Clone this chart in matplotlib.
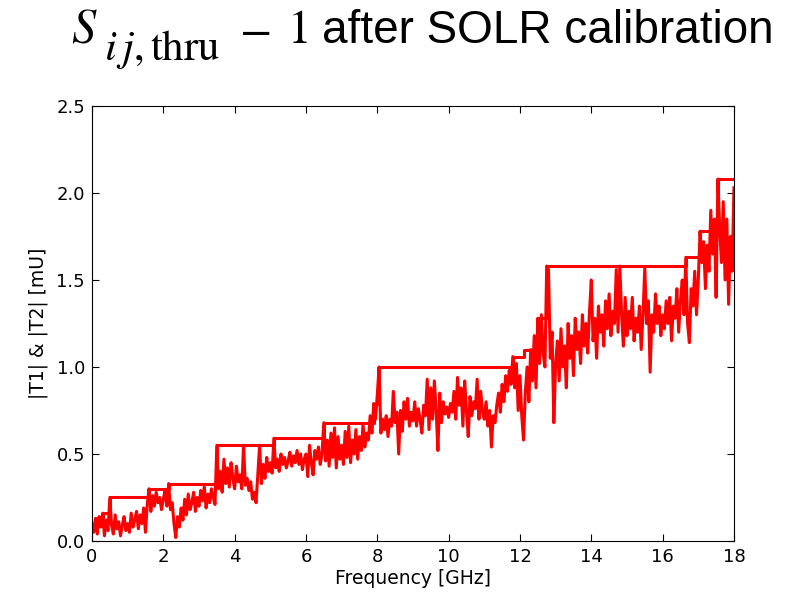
### Script description ###
# |T1| & |T2| after SOLR calibration, noisy trace plus running peak envelope
### Packages ###
import matplotlib
matplotlib.use('Agg')
import matplotlib.pyplot as plt
import matplotlib.ticker as ticker
import numpy as np

##### data #####
# frequency grid, 0.05 GHz steps from 0 to 18 GHz
freq = np.linspace(0.0, 18.0, 361)

# noisy trace [mU], one row per GHz
t_trace = [
    0.10, 0.05, 0.13, 0.04, 0.14, 0.08, 0.16, 0.03, 0.12, 0.06, 0.25, 0.09, 0.04, 0.15, 0.07, 0.11, 0.03, 0.09, 0.14, 0.06,
    0.10, 0.05, 0.16, 0.08, 0.12, 0.17, 0.07, 0.15, 0.10, 0.19, 0.05, 0.21, 0.30, 0.17, 0.26, 0.20, 0.28, 0.22, 0.25, 0.18,
    0.24, 0.29, 0.20, 0.33, 0.18, 0.22, 0.10, 0.02, 0.14, 0.08, 0.19, 0.12, 0.24, 0.15, 0.27, 0.18, 0.22, 0.28, 0.17, 0.25,
    0.20, 0.29, 0.23, 0.31, 0.19, 0.27, 0.22, 0.30, 0.25, 0.21, 0.55, 0.30, 0.40, 0.28, 0.47, 0.33, 0.42, 0.31, 0.45, 0.36,
    0.30, 0.43, 0.34, 0.38, 0.30, 0.55, 0.32, 0.36, 0.29, 0.34, 0.24, 0.28, 0.22, 0.38, 0.55, 0.33, 0.44, 0.36, 0.48, 0.40,
    0.45, 0.39, 0.59, 0.42, 0.47, 0.40, 0.50, 0.44, 0.48, 0.42, 0.46, 0.51, 0.43, 0.49, 0.45, 0.52, 0.44, 0.50, 0.41, 0.47,
    0.50, 0.37, 0.55, 0.45, 0.38, 0.52, 0.47, 0.54, 0.44, 0.50, 0.68, 0.46, 0.58, 0.43, 0.62, 0.48, 0.65, 0.42, 0.60, 0.47,
    0.55, 0.44, 0.63, 0.48, 0.66, 0.45, 0.58, 0.50, 0.64, 0.47, 0.60, 0.52, 0.67, 0.54, 0.62, 0.58, 0.72, 0.62, 0.79, 0.70,
    0.84, 1.00, 0.62, 0.70, 0.64, 0.72, 0.60, 0.70, 0.66, 0.86, 0.68, 0.74, 0.50, 0.75, 0.63, 0.80, 0.70, 0.82, 0.66, 0.74,
    0.69, 0.80, 0.66, 0.76, 0.70, 0.62, 0.78, 0.72, 0.93, 0.64, 0.88, 0.70, 0.92, 0.75, 0.52, 0.85, 0.68, 0.80, 0.73, 0.77,
    0.71, 0.79, 0.74, 0.86, 0.70, 0.94, 0.78, 0.88, 0.66, 0.92, 0.75, 0.60, 0.83, 0.72, 0.80, 0.76, 0.93, 0.70, 0.86, 0.74,
    0.70, 0.80, 0.66, 0.75, 0.54, 0.72, 0.68, 0.78, 0.85, 0.74, 0.90, 0.80, 0.95, 0.86, 0.98, 0.90, 1.06, 0.88, 1.02, 0.75,
    0.95, 0.72, 0.58, 0.85, 1.00, 0.80, 1.10, 0.92, 1.18, 0.88, 1.28, 1.02, 1.30, 1.08, 1.00, 1.58, 1.56, 1.05, 1.20, 0.68,
    1.02, 1.15, 0.92, 1.22, 1.00, 1.12, 0.88, 1.25, 1.05, 1.18, 0.95, 1.28, 1.10, 1.20, 1.02, 1.30, 1.12, 1.25, 1.08, 1.32,
    1.50, 1.15, 1.28, 1.05, 1.35, 1.20, 1.30, 1.12, 1.38, 1.22, 1.42, 1.18, 1.32, 1.25, 1.56, 1.20, 1.58, 1.30, 1.12, 1.40,
    1.18, 1.32, 1.22, 1.40, 1.15, 1.28, 1.20, 1.35, 1.10, 1.30, 1.57, 1.25, 1.38, 0.97, 1.30, 1.20, 1.42, 1.25, 1.35, 1.18,
    1.30, 1.22, 1.38, 1.25, 1.40, 1.15, 1.35, 1.28, 1.45, 1.20, 1.38, 1.50, 1.30, 1.63, 1.25, 1.14, 1.45, 1.35, 1.55, 1.30,
    1.50, 1.78, 1.60, 1.72, 1.45, 1.70, 1.55, 1.90, 1.65, 1.85, 1.40, 2.08, 1.80, 1.60, 1.95, 1.50, 1.85, 1.36, 1.75, 1.55,
    2.03,
]

# peak envelope (step line): frequency where a new level starts, and its level
peak_freq = [0.0, 0.15, 0.30, 0.50, 1.60, 2.15, 3.50, 5.10, 6.50, 7.90, 8.05, 11.80, 12.10, 12.50, 12.75, 16.65, 17.05, 17.55, 18.0]
peak_level = [0.10, 0.13, 0.16, 0.25, 0.30, 0.33, 0.55, 0.59, 0.68, 0.79, 1.00, 1.06, 1.10, 1.28, 1.58, 1.63, 1.78, 2.08, 2.08]

##### Plot the stuff #####
plt.rcParams['mathtext.fontset'] = 'stix'
fig = plt.figure(figsize=(8.11, 5.93), dpi=100)
ax = fig.add_axes([0.1134, 0.0877, 0.7916, 0.7336])

ax.plot(freq, t_trace, color='#ff0000', lw=2.2)
ax.plot(peak_freq, peak_level, color='#ff0000', lw=2.2, drawstyle='steps-post')

ax.set_xlim(0, 18)
ax.set_ylim(0, 2.5)
ax.xaxis.set_major_locator(ticker.MultipleLocator(2))
ax.yaxis.set_major_locator(ticker.MultipleLocator(0.5))
ax.yaxis.set_major_formatter(ticker.FormatStrFormatter('%.1f'))
ax.tick_params(axis='both', direction='in', which='both', top=True, right=True,
               length=5, labelsize=13, pad=5)
ax.set_xlabel('Frequency [GHz]', fontsize=13.5, labelpad=2)
ax.set_ylabel('|T1| & |T2| [mU]', fontsize=13.5, labelpad=6)

# slide-style title: math pieces in serif, rest in sans (positions in figure fractions)
base_y = 0.9275
fig.text(0.088, base_y, r'$S$', ha='left', va='baseline', fontsize=35)
fig.text(0.128, 0.899, r'$i\,j,\mathrm{thru}$', ha='left', va='baseline', fontsize=31)
fig.text(0.314, base_y, r'$-$', ha='center', va='baseline', fontsize=34)
fig.text(0.354, base_y, r'$1$', ha='left', va='baseline', fontsize=34)
fig.text(0.397, base_y, 'after SOLR calibration', ha='left', va='baseline',
         fontsize=33, family='Liberation Sans')

fig.savefig('out.png', dpi=100)
